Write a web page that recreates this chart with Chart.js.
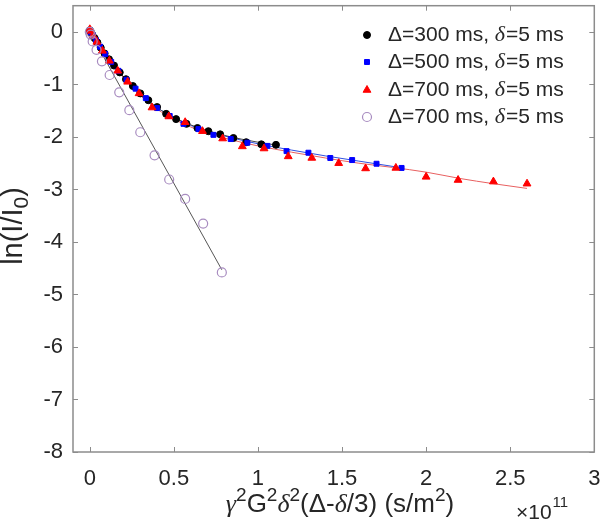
<!DOCTYPE html>
<html><head><meta charset="utf-8">
<script src="https://cdn.jsdelivr.net/npm/chart.js@4.4.1/dist/chart.umd.min.js"></script>
<style>html,body{margin:0;padding:0;background:#fff}</style>
</head><body>
<canvas id="c" width="600" height="532" style="width:600px;height:532px;display:block"></canvas>
<script>
// ---- data (x in units of 1e11 s/m^2) ----
const xTicks = [0, 0.5, 1, 1.5, 2, 2.5, 3];
const yTicks = [0, -1, -2, -3, -4, -5, -6, -7, -8];
const seriesLabels = ['\u0394=300 ms, ', '\u0394=500 ms, ', '\u0394=700 ms, ', '\u0394=700 ms, '];

const x300 = [0, 0.002, 0.007, 0.016, 0.029, 0.045, 0.065, 0.088, 0.114, 0.144, 0.178, 0.215, 0.256, 0.30, 0.348, 0.40, 0.454, 0.513, 0.575, 0.64, 0.705, 0.775, 0.854, 0.93, 1.02, 1.107];
const y300 = [0.03, 0.02, -0.01, -0.06, -0.12, -0.20, -0.30, -0.41, -0.52, -0.64, -0.77, -0.90, -1.03, -1.17, -1.30, -1.43, -1.56, -1.66, -1.75, -1.83, -1.89, -1.95, -2.02, -2.10, -2.14, -2.15];

const x500 = [0, 0.001, 0.007, 0.019, 0.037, 0.061, 0.091, 0.127, 0.17, 0.218, 0.272, 0.333, 0.40, 0.475, 0.557, 0.646, 0.735, 0.838, 0.937, 1.056, 1.17, 1.30, 1.43, 1.56, 1.705, 1.854];
const y500 = [0.03, 0.02, -0.01, -0.07, -0.16, -0.28, -0.42, -0.57, -0.74, -0.91, -1.08, -1.26, -1.45, -1.60, -1.75, -1.85, -1.96, -2.04, -2.11, -2.17, -2.27, -2.30, -2.40, -2.44, -2.51, -2.59];

const x700 = [0, 0.005, 0.019, 0.042, 0.075, 0.116, 0.166, 0.225, 0.293, 0.37, 0.47, 0.567, 0.67, 0.79, 0.907, 1.036, 1.18, 1.32, 1.48, 1.64, 1.82, 2.0, 2.19, 2.40, 2.60];
const y700 = [0.05, 0.02, -0.07, -0.19, -0.36, -0.55, -0.74, -0.95, -1.17, -1.44, -1.61, -1.72, -1.89, -2.03, -2.18, -2.22, -2.37, -2.40, -2.50, -2.60, -2.59, -2.76, -2.82, -2.85, -2.89];

const xOpen = [0, 0.005, 0.017, 0.04, 0.072, 0.118, 0.175, 0.235, 0.30, 0.385, 0.472, 0.567, 0.674, 0.785];
const yOpen = [0, -0.05, -0.18, -0.34, -0.56, -0.82, -1.15, -1.49, -1.91, -2.35, -2.81, -3.18, -3.65, -4.58];

// fitted curves
const fx300 = [0, 0.05, 0.1, 0.15, 0.2, 0.3, 0.4, 0.5, 0.6, 0.7, 0.8, 0.9, 1.0, 1.12];
const fy300 = [0.02, -0.24, -0.46, -0.66, -0.85, -1.18, -1.44, -1.63, -1.77, -1.88, -1.97, -2.04, -2.10, -2.16];
const fx500 = [0, 0.05, 0.1, 0.15, 0.2, 0.3, 0.4, 0.5, 0.6, 0.7, 0.8, 0.9, 1.0, 1.2, 1.4, 1.6, 1.86];
const fy500 = [0.02, -0.24, -0.46, -0.66, -0.85, -1.18, -1.44, -1.63, -1.78, -1.89, -1.98, -2.06, -2.13, -2.25, -2.36, -2.46, -2.59];
const fx700 = [0, 0.05, 0.1, 0.15, 0.2, 0.3, 0.4, 0.5, 0.6, 0.7, 0.8, 0.9, 1.0, 1.2, 1.4, 1.6, 1.8, 2.0, 2.2, 2.4, 2.6];
const fy700 = [0.02, -0.25, -0.48, -0.68, -0.87, -1.21, -1.47, -1.66, -1.81, -1.93, -2.02, -2.10, -2.17, -2.29, -2.40, -2.50, -2.58, -2.67, -2.79, -2.89, -2.98];
const fxOpen = [0, 0.785];
const fyOpen = [0, -4.53];

const xTitleParts = [
  {t: '\u03b3', it: true}, {t: '2', sup: true}, {t: 'G'}, {t: '2', sup: true},
  {t: '\u03b4', it: true}, {t: '2', sup: true}, {t: '(\u0394-'}, {t: '\u03b4', it: true},
  {t: '/3) (s/m'}, {t: '2', sup: true}, {t: ')'}
];
const yTitleParts = [{t: 'ln(I/I'}, {t: '0', sub: true}, {t: ')'}];

const pts = (xs, ys) => xs.map((x, i) => ({x: x, y: ys[i]}));
const FONT = "'Liberation Sans', Arial, Helvetica, sans-serif";
const SERIF = "'Liberation Serif', 'Times New Roman', serif";
const TXT = '#262626';
const AXC = '#8c8c8c';

function partFont(p, size) {
  const s = (p.sup || p.sub) ? Math.round(size * 0.72) : size;
  return p.it ? ('italic ' + s + 'px ' + SERIF) : (s + 'px ' + FONT);
}
function richWidth(ctx, parts, size) {
  let w = 0;
  parts.forEach(p => { ctx.font = partFont(p, size); w += ctx.measureText(p.t).width; });
  return w;
}
function drawRich(ctx, parts, size, cx, baseline) {
  let x = cx - richWidth(ctx, parts, size) / 2;
  ctx.textAlign = 'left'; ctx.textBaseline = 'alphabetic';
  parts.forEach(p => {
    ctx.font = partFont(p, size);
    let y = baseline;
    if (p.sup) y -= size * 0.42;
    if (p.sub) y += size * 0.22;
    ctx.fillText(p.t, x, y);
    x += ctx.measureText(p.t).width;
  });
}

const fitLine = (d, color) => ({
  data: d, showLine: true, pointRadius: 0, borderColor: color, borderWidth: 1,
  cubicInterpolationMode: 'monotone', fill: false, order: 10
});

const frame = {
  id: 'frame',
  afterDraw(chart) {
    const ctx = chart.ctx, a = chart.chartArea, xs = chart.scales.x, ys = chart.scales.y;
    ctx.save();
    ctx.strokeStyle = AXC; ctx.lineWidth = 1.5;
    ctx.strokeRect(a.left, a.top, a.right - a.left, a.bottom - a.top);
    ctx.lineWidth = 1;
    const L = 5;
    ctx.beginPath();
    xTicks.forEach(v => {
      const p = Math.round(xs.getPixelForValue(v)) + 0.5;
      ctx.moveTo(p, a.bottom); ctx.lineTo(p, a.bottom - L);
      ctx.moveTo(p, a.top); ctx.lineTo(p, a.top + L);
    });
    yTicks.forEach(v => {
      const p = Math.round(ys.getPixelForValue(v)) + 0.5;
      ctx.moveTo(a.left, p); ctx.lineTo(a.left + L, p);
      ctx.moveTo(a.right, p); ctx.lineTo(a.right - L, p);
    });
    ctx.stroke();

    ctx.fillStyle = TXT;
    // axis titles
    drawRich(ctx, xTitleParts, 26, 340, 512);
    ctx.save();
    ctx.translate(22, 226);
    ctx.rotate(-Math.PI / 2);
    drawRich(ctx, yTitleParts, 29, 0, 0);
    ctx.restore();

    // x10^11 exponent label
    ctx.textBaseline = 'alphabetic'; ctx.textAlign = 'left';
    ctx.font = '21px ' + FONT;
    ctx.fillText('\u00d710', 516, 519);
    const w = ctx.measureText('\u00d710').width;
    ctx.font = '15px ' + FONT;
    ctx.fillText('11', 516 + w + 1, 507);

    // legend
    const rows = [35, 62, 90, 117];
    const mx = 367, tx = 388;
    chart.data.datasets.slice(4).forEach((ds, i) => {
      const y = rows[i];
      ctx.save();
      ctx.lineWidth = ds.borderWidth || 1;
      ctx.strokeStyle = ds.borderColor; ctx.fillStyle = ds.backgroundColor;
      Chart.helpers.drawPoint(ctx, {pointStyle: ds.pointStyle, radius: ds.pointRadius, borderWidth: ds.borderWidth, rotation: 0}, mx, y);
      ctx.restore();
      ctx.fillStyle = TXT; ctx.textBaseline = 'middle'; ctx.textAlign = 'left';
      ctx.font = '21px ' + FONT;
      ctx.fillText(seriesLabels[i], tx, y);
      let xx = tx + ctx.measureText(seriesLabels[i]).width;
      ctx.font = 'italic 22px ' + SERIF;
      ctx.fillText('\u03b4', xx, y);
      xx += ctx.measureText('\u03b4').width + 1;
      ctx.font = '21px ' + FONT;
      ctx.fillText('=5 ms', xx, y);
    });
    ctx.restore();
  }
};

new Chart(document.getElementById('c'), {
  type: 'scatter',
  data: {
    datasets: [
      fitLine(pts(fx300, fy300), '#4a4a4a'),
      fitLine(pts(fx500, fy500), '#3050e0'),
      fitLine(pts(fx700, fy700), '#e86060'),
      fitLine(pts(fxOpen, fyOpen), '#555555'),
      {label: '\u0394=300 ms, \u03b4=5 ms', data: pts(x300, y300), pointStyle: 'circle', pointRadius: 3.5, backgroundColor: '#000000', borderColor: '#000000', borderWidth: 1, order: 4},
      {label: '\u0394=500 ms, \u03b4=5 ms', data: pts(x500, y500), pointStyle: 'rect', pointRadius: 3.5, backgroundColor: '#0000ff', borderColor: '#0000ff', borderWidth: 1, order: 3},
      {label: '\u0394=700 ms, \u03b4=5 ms', data: pts(x700, y700), pointStyle: 'triangle', pointRadius: 4.5, backgroundColor: '#ff0000', borderColor: '#ff0000', borderWidth: 1, order: 2},
      {label: '\u0394=700 ms, \u03b4=5 ms (b)', data: pts(xOpen, yOpen), pointStyle: 'circle', pointRadius: 4.5, backgroundColor: 'rgba(0,0,0,0)', borderColor: '#a88cc0', borderWidth: 1.2, order: 1}
    ]
  },
  options: {
    responsive: false, animation: false, devicePixelRatio: 1,
    layout: {padding: {top: 2, right: 4, left: 0, bottom: 0}},
    plugins: {legend: {display: false}, tooltip: {enabled: false}},
    scales: {
      x: {
        type: 'linear', min: -0.1, max: 3,
        afterBuildTicks: s => { s.ticks = xTicks.map(v => ({value: v})); },
        afterFit: s => { s.height = 80; s.paddingLeft = 0; s.paddingRight = 0; },
        grid: {display: false, drawTicks: false}, border: {display: false},
        ticks: {font: {family: FONT, size: 22}, color: TXT, padding: 14, maxRotation: 0,
                callback: v => String(v)},
        title: {display: false}
      },
      y: {
        type: 'linear', min: -8, max: 0.5,
        afterBuildTicks: s => { s.ticks = yTicks.map(v => ({value: v})); },
        afterFit: s => { s.width = 73; s.paddingTop = 0; s.paddingBottom = 0; },
        grid: {display: false, drawTicks: false}, border: {display: false},
        ticks: {font: {family: FONT, size: 22}, color: TXT, padding: 10, callback: v => String(v)},
        title: {display: false}
      }
    }
  },
  plugins: [frame]
});
</script>
</body></html>
